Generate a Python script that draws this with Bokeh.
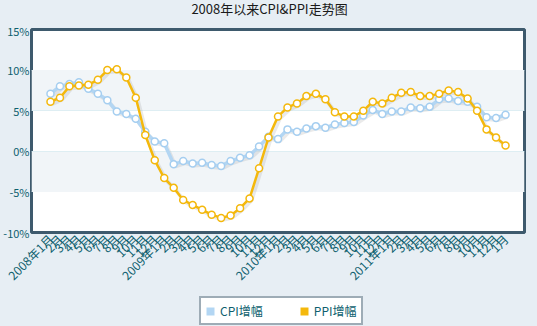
from bokeh.plotting import figure
from bokeh.layouts import column
from bokeh.models import (FixedTicker, BoxAnnotation, Legend, LegendItem,
                          ColumnDataSource, Range1d, Label)
from bokeh.embed import file_html
from bokeh.resources import INLINE

# ---- data -------------------------------------------------------------
years = ["2008", "2009", "2010", "2011"]
months = ["1月", "2月", "3月", "4月", "5月", "6月", "7月", "8月",
          "9月", "10月", "11月", "12月"]
tick_labels = []
for yr in years:
    for i, m in enumerate(months):
        tick_labels.append(yr + "年" + m if i == 0 else m)
tick_labels.append("1月")

cpi = [7.1, 8.0, 8.3, 8.5, 7.7, 7.1, 6.3, 4.9, 4.6, 4.0, 2.4, 1.2,
       1.0, -1.6, -1.2, -1.5, -1.4, -1.7, -1.8, -1.2, -0.8, -0.5, 0.6, 1.8,
       1.5, 2.7, 2.4, 2.8, 3.1, 2.9, 3.3, 3.5, 3.6, 4.4, 5.1, 4.6,
       4.9, 4.9, 5.4, 5.3, 5.5, 6.4, 6.5, 6.2, 6.1, 5.5, 4.2, 4.1, 4.5]
ppi = [6.1, 6.6, 8.0, 8.1, 8.2, 8.8, 10.0, 10.1, 9.1, 6.6, 2.0, -1.1,
       -3.3, -4.5, -6.0, -6.6, -7.2, -7.8, -8.2, -7.9, -7.0, -5.8, -2.1, 1.7,
       4.3, 5.4, 5.9, 6.8, 7.1, 6.4, 4.8, 4.3, 4.3, 5.0, 6.1, 5.9,
       6.6, 7.2, 7.3, 6.8, 6.8, 7.1, 7.5, 7.3, 6.5, 5.0, 2.7, 1.7, 0.7]
y_ticks = [-10, -5, 0, 5, 10, 15]
y_tick_labels = ["-10%", "-5%", "0%", "5%", "10%", "15%"]
series_names = ["CPI增幅", "PPI增幅"]
title_text = "2008年以来CPI&PPI走势图"

x = list(range(len(cpi)))

# ---- style ------------------------------------------------------------
FONT = "Noto Sans CJK SC"
TEAL = "#0E5F6E"
CPI_C = "#B3D6F3"
PPI_C = "#F4B80C"
BG = "#E7EEF4"
W = 537
TITLE_H = 22
LEG_H = 34
MAIN_H = 326 - TITLE_H - LEG_H
LEFT, RIGHT = 29, 13


def blank(h):
    # frame aligned with the main chart's frame; x data units == page pixels
    f = figure(width=W, height=h, output_backend="svg", toolbar_location=None,
               x_range=Range1d(LEFT, W - RIGHT), y_range=Range1d(0, h),
               x_axis_location=None, y_axis_location=None,
               min_border=0, min_border_left=LEFT, min_border_right=RIGHT,
               min_border_top=0, min_border_bottom=0)
    f.grid.visible = False
    f.outline_line_color = None
    f.background_fill_color = BG
    f.border_fill_color = BG
    return f


# ---- title strip ----
pt = blank(TITLE_H)
pt.add_layout(Label(x=268, y=TITLE_H - 8, text=title_text, text_font=FONT,
                    text_font_size="13px", text_color="#1A1A1A",
                    text_align="center", text_baseline="middle"))

# ---- main chart ----
p = figure(width=W, height=MAIN_H, output_backend="svg", toolbar_location=None,
           x_range=Range1d(-2, 50), y_range=Range1d(-10, 15),
           min_border_left=LEFT, min_border_right=RIGHT, min_border_top=7,
           min_border_bottom=56)
p.background_fill_color = "white"
p.border_fill_color = BG
p.outline_line_color = "#3E5A6D"
p.outline_line_width = 3

for lo, hi in [(5, 10), (-5, 0)]:
    p.add_layout(BoxAnnotation(bottom=lo, top=hi, fill_color="#F1F5F8",
                               fill_alpha=1, line_color=None, level="underlay"))

p.yaxis.ticker = FixedTicker(ticks=y_ticks)
p.yaxis.major_label_overrides = {t: l for t, l in zip(y_ticks, y_tick_labels)}
p.xaxis.ticker = FixedTicker(ticks=x)
p.xaxis.major_label_overrides = {i: l for i, l in zip(x, tick_labels)}
p.xaxis.major_label_orientation = 0.785398
for ax in (p.xaxis, p.yaxis):
    ax.axis_line_color = None
    ax.major_tick_line_color = None
    ax.minor_tick_line_color = None
    ax.major_tick_out = 0
    ax.major_tick_in = 0
    ax.minor_tick_out = 0
    ax.minor_tick_in = 0
    ax.major_label_text_font = FONT
    ax.major_label_text_color = TEAL
p.yaxis.major_label_text_font_size = "11px"
p.yaxis.major_label_standoff = 2
p.xaxis.major_label_text_font_size = "12px"
p.xaxis.major_label_standoff = 4

p.xgrid.grid_line_color = None
p.ygrid.grid_line_color = "#A9D9E3"
p.ygrid.grid_line_width = 1

src = ColumnDataSource(dict(x=x, cpi=cpi, ppi=ppi,
                            xs=[v + 0.2 for v in x],
                            cpis=[v - 0.25 for v in cpi],
                            ppis=[v - 0.25 for v in ppi]))

p.line("xs", "cpis", source=src, line_color="#888888", line_alpha=0.18, line_width=4)
p.line("xs", "ppis", source=src, line_color="#888888", line_alpha=0.18, line_width=4)

p.line("x", "cpi", source=src, line_color=CPI_C, line_width=3.5)
p.scatter("x", "cpi", source=src, size=7, fill_color="white",
          line_color="#A5CEF0", line_width=1.5)
p.line("x", "ppi", source=src, line_color=PPI_C, line_width=2.5)
p.scatter("x", "ppi", source=src, size=7, fill_color="white",
          line_color=PPI_C, line_width=1.5)

# ---- legend strip ----
pl = blank(LEG_H)
# swatch renderers: one off-screen placeholder each, only used by the legend
sw = ColumnDataSource(dict(l=[-20], r=[-10], b=[-20], t=[-10]))
q1 = pl.quad(left="l", right="r", bottom="b", top="t", source=sw,
             fill_color=CPI_C, line_color=None)
q2 = pl.quad(left="l", right="r", bottom="b", top="t", source=sw,
             fill_color=PPI_C, line_color=None)
legend = Legend(items=[LegendItem(label=series_names[0], renderers=[q1]),
                       LegendItem(label=series_names[1], renderers=[q2])],
                orientation="horizontal", location=(197 - LEFT, 1),
                glyph_width=10, glyph_height=10, spacing=36,
                label_standoff=5, padding=4, margin=0,
                label_text_font=FONT, label_text_font_size="12px",
                label_text_color=TEAL, label_height=12,
                border_line_color="#3E5A6D", border_line_width=2,
                background_fill_color="white", background_fill_alpha=1)
pl.add_layout(legend, "center")

layout = column(pt, p, pl, spacing=0)
layout.background = BG
open("out.html", "w").write(file_html(layout, INLINE))
